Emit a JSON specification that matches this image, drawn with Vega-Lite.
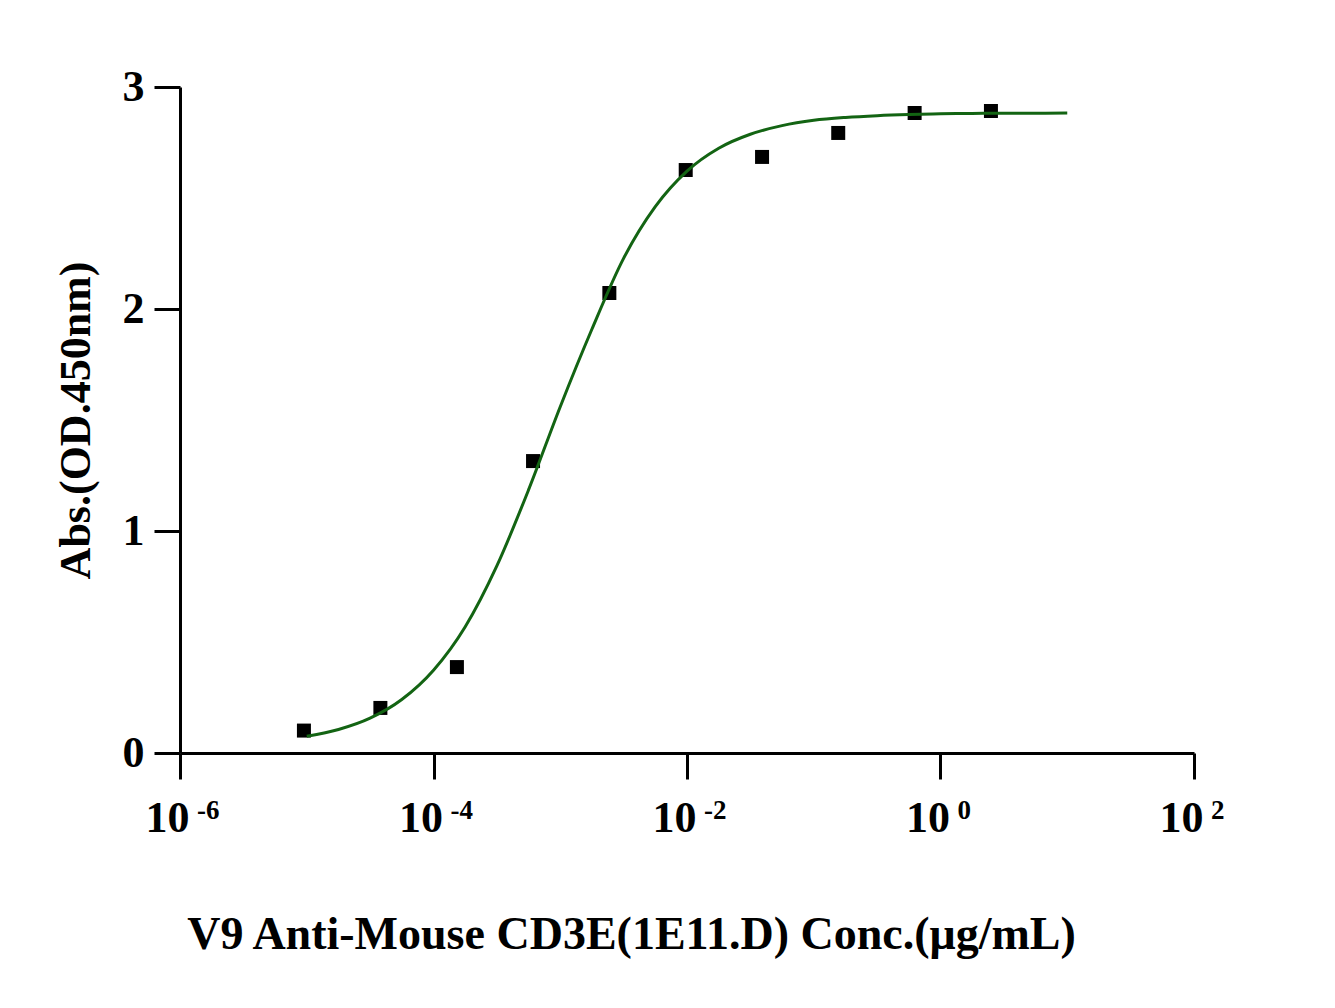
{
  "$schema": "https://vega.github.io/schema/vega-lite/v6.json",
  "autosize": "none",
  "padding": {"left": 180, "top": 87, "right": 141, "bottom": 255},
  "width": 1014,
  "height": 666,
  "background": "white",
  "config": {
    "view": {"stroke": null},
    "axis": {
      "grid": false,
      "domainColor": "black",
      "domainWidth": 3,
      "tickColor": "black",
      "tickWidth": 3,
      "tickSize": 26,
      "labelFont": "Liberation Serif",
      "labelFontWeight": "bold",
      "labelFontSize": 44,
      "labelColor": "black",
      "labelFlush": false,
      "titleFont": "Liberation Serif",
      "titleFontWeight": "bold",
      "titleColor": "black"
    }
  },
  "datasets": {
    "points": [
      {"conc": 0.0000095, "od": 0.101},
      {"conc": 0.0000381, "od": 0.203},
      {"conc": 0.000153, "od": 0.387},
      {"conc": 0.00061, "od": 1.315},
      {"conc": 0.00244, "od": 2.072},
      {"conc": 0.00977, "od": 2.626},
      {"conc": 0.0391, "od": 2.685},
      {"conc": 0.156, "od": 2.793},
      {"conc": 0.625, "od": 2.883},
      {"conc": 2.5, "od": 2.892}
    ],
    "fit": [
      {"conc": 0.00001, "od": 0.075},
      {"conc": 0.0000178, "od": 0.106},
      {"conc": 0.0000316, "od": 0.157},
      {"conc": 0.0000562, "od": 0.241},
      {"conc": 0.0001, "od": 0.373},
      {"conc": 0.000178, "od": 0.569},
      {"conc": 0.000316, "od": 0.843},
      {"conc": 0.000562, "od": 1.185},
      {"conc": 0.001, "od": 1.56},
      {"conc": 0.00178, "od": 1.91},
      {"conc": 0.00316, "od": 2.228},
      {"conc": 0.00562, "od": 2.461},
      {"conc": 0.01, "od": 2.621},
      {"conc": 0.0178, "od": 2.724},
      {"conc": 0.0316, "od": 2.787},
      {"conc": 0.0562, "od": 2.826},
      {"conc": 0.1, "od": 2.85},
      {"conc": 0.178, "od": 2.863},
      {"conc": 0.316, "od": 2.871},
      {"conc": 0.562, "od": 2.876},
      {"conc": 1, "od": 2.879},
      {"conc": 1.78, "od": 2.881},
      {"conc": 3.16, "od": 2.882},
      {"conc": 5.62, "od": 2.882},
      {"conc": 10, "od": 2.883}
    ],
    "exponents": [
      {"conc": 0.000001, "power": "-6"},
      {"conc": 0.0001, "power": "-4"},
      {"conc": 0.01, "power": "-2"},
      {"conc": 1, "power": "0"},
      {"conc": 100, "power": "2"}
    ]
  },
  "layer": [
    {
      "data": {"name": "points"},
      "mark": {"type": "point", "shape": "square", "filled": true, "color": "black", "size": 196, "opacity": 1},
      "encoding": {
        "x": {
          "field": "conc",
          "type": "quantitative",
          "scale": {"type": "log", "domain": [0.000001, 100], "nice": false},
          "axis": {
            "values": [0.000001, 0.0001, 0.01, 1, 100],
            "labelExpr": "'10'",
            "labelAlign": "right",
            "labelOffset": 9,
            "labelPadding": 17,
            "title": "V9 Anti-Mouse CD3E(1E11.D) Conc.(μg/mL)",
            "titleFontSize": 46,
            "titlePadding": 72,
            "titleX": 451
          }
        },
        "y": {
          "field": "od",
          "type": "quantitative",
          "scale": {"domain": [0, 3], "nice": false},
          "axis": {
            "values": [0, 1, 2, 3],
            "format": "d",
            "labelPadding": 10,
            "title": "Abs.(OD.450nm)",
            "titleFontSize": 44,
            "titlePadding": 24
          }
        }
      }
    },
    {
      "data": {"name": "fit"},
      "mark": {"type": "line", "color": "#136413", "strokeWidth": 3, "interpolate": "monotone"},
      "encoding": {
        "x": {"field": "conc", "type": "quantitative"},
        "y": {"field": "od", "type": "quantitative"}
      }
    },
    {
      "data": {"name": "exponents"},
      "mark": {
        "type": "text",
        "font": "Liberation Serif",
        "fontWeight": "bold",
        "fontSize": 27,
        "color": "black",
        "align": "left",
        "baseline": "top",
        "dx": 17,
        "dy": 45
      },
      "encoding": {
        "x": {"field": "conc", "type": "quantitative"},
        "y": {"datum": 0, "type": "quantitative"},
        "text": {"field": "power", "type": "nominal"}
      }
    }
  ]
}
